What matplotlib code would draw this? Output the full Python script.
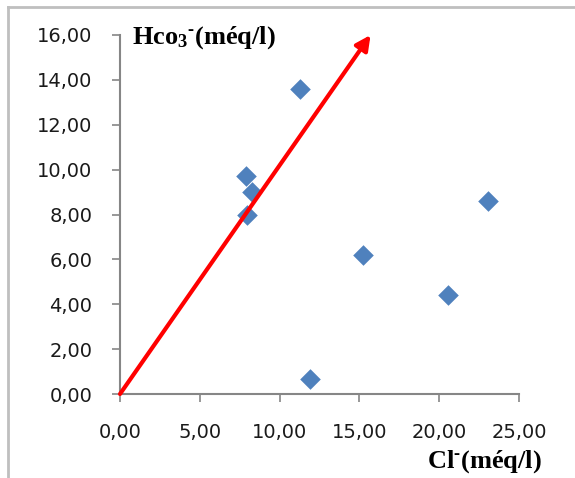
import matplotlib
matplotlib.use("Agg")
import matplotlib.pyplot as plt
from matplotlib.lines import Line2D
from matplotlib.ticker import FuncFormatter

# Cl- vs HCO3- (meq/l)
cl = [11.3, 7.9, 8.25, 7.95, 15.2, 20.55, 23.05, 11.9]
hco3 = [13.6, 9.7, 9.0, 8.0, 6.2, 4.4, 8.6, 0.67]
arrow_start = (0, 0)
arrow_end = (15.7, 16.0)

plt.rcParams['mathtext.fontset'] = 'custom'
plt.rcParams['mathtext.rm'] = 'Liberation Serif:bold'
plt.rcParams['mathtext.it'] = 'Liberation Serif:bold'
plt.rcParams['mathtext.bf'] = 'Liberation Serif:bold'

W, H = 575, 478
fig = plt.figure(figsize=(W / 100, H / 100), dpi=100)
ax = fig.add_axes([120 / W, (H - 394) / H, (519 - 120) / W, (394 - 35) / H])

ax.scatter(cl, hco3, marker='D', s=110, color='#4F81BD', linewidths=0, zorder=3)
ax.annotate('', xy=arrow_end, xytext=arrow_start, annotation_clip=False,
            arrowprops=dict(arrowstyle='-|>', color='#FF0000', lw=3,
                            mutation_scale=22, shrinkA=0, shrinkB=0))

ax.set_xlim(0, 25)
ax.set_ylim(0, 16)
ax.set_xticks(range(0, 26, 5))
ax.set_yticks(range(0, 17, 2))
fmt = FuncFormatter(lambda v, p: f"{v:.2f}".replace('.', ','))
ax.xaxis.set_major_formatter(fmt)
ax.yaxis.set_major_formatter(fmt)

for s in ['top', 'right']:
    ax.spines[s].set_visible(False)
for s in ['left', 'bottom']:
    ax.spines[s].set_color('#868686')
    ax.spines[s].set_linewidth(1.5)
ax.tick_params(axis='both', direction='out', length=6, width=1.2,
               color='#868686', labelsize=14, labelcolor='#1a1a1a')
ax.tick_params(axis='y', pad=14)
ax.tick_params(axis='x', pad=15)

fig.text(132 / W, 1 - 38 / H, r'Hco$_{3}$$^{\text{-}}$(méq/l)', family='Liberation Serif',
         weight='bold', fontsize=19, ha='left', va='center')
fig.text(427 / W, 1 - 462 / H, r'Cl$^{\text{-}}$(méq/l)', family='Liberation Serif',
         weight='bold', fontsize=19, ha='left', va='center')

# outer chart frame
fig.add_artist(Line2D([8 / W, 8 / W], [0, 1 - 7 / H], color='#BFBFBF', lw=2))
fig.add_artist(Line2D([8 / W, 1], [1 - 7 / H, 1 - 7 / H], color='#BFBFBF', lw=2))

fig.savefig('out.png', dpi=100)
